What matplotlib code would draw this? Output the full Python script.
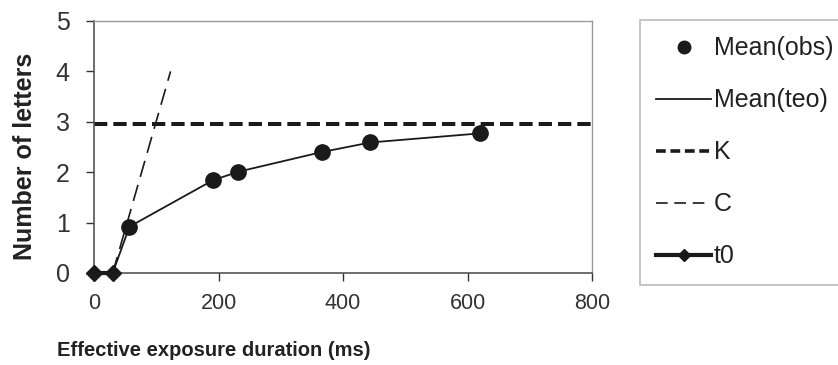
import matplotlib
matplotlib.use("Agg")
import matplotlib.pyplot as plt
from matplotlib.lines import Line2D

plt.rcParams['font.family'] = ['Liberation Sans', 'DejaVu Sans']

# Data
obs_x = [57, 191, 232, 366, 444, 620]
obs_y = [0.92, 1.84, 2.01, 2.40, 2.59, 2.77]
teo_x = [30, 57, 191, 232, 366, 444, 620]
teo_y = [0.0, 0.92, 1.84, 2.01, 2.40, 2.59, 2.77]
K_value = 2.95
K_x = [0, 800]
C_x = [30, 123]
C_y = [0.0, 4.0]
t0_x = [0, 30]
t0_y = [0, 0]
x_ticks = [0, 200, 400, 600, 800]
y_ticks = [0, 1, 2, 3, 4, 5]

dark = '#1a1a1a'
W, H = 838, 365
fig = plt.figure(figsize=(W / 100, H / 100), dpi=100)
ax = fig.add_axes([94 / W, 1 - 273 / H, (592 - 94) / W, (273 - 21) / H])

ax.plot(teo_x, teo_y, color=dark, lw=1.3, zorder=3)
ax.plot(K_x, [K_value, K_value], color=dark, lw=2.9, dashes=(3.3, 1.5), zorder=2)
ax.plot(C_x, C_y, color=dark, lw=1.2, dashes=(10, 5), zorder=2)
ax.plot(t0_x, t0_y, color=dark, lw=3, marker='D', ms=8, clip_on=False, zorder=5)
ax.plot(obs_x, obs_y, ls='none', marker='o', ms=11, color=dark, zorder=4)

ax.set_xlim(0, 800)
ax.set_ylim(0, 5)
ax.set_xticks(x_ticks)
ax.set_yticks(y_ticks)
ax.tick_params(axis='both', colors='#333333', length=5.5, width=1, direction='out')
ax.tick_params(axis='y', labelsize=18, pad=12)
ax.tick_params(axis='x', labelsize=15.5, pad=9)
for s in ['left', 'bottom']:
    ax.spines[s].set_color('#555555')
    ax.spines[s].set_linewidth(1.2)
for s in ['top', 'right']:
    ax.spines[s].set_color('#999999')
    ax.spines[s].set_linewidth(1.0)

fig.text(214 / W, 1 - 351 / H, 'Effective exposure duration (ms)', ha='center', va='center',
         fontsize=14.5, fontweight='bold', color='#222222')
fig.text(25 / W, 1 - 156 / H, 'Number of letters', ha='center', va='center', rotation=90,
         fontsize=18, fontweight='bold', color='#222222')

handles = [
    Line2D([], [], ls='none', marker='o', ms=9, color=dark),
    Line2D([], [], color=dark, lw=1.3),
    Line2D([], [], color=dark, lw=2.6, dashes=(2.7, 1.3)),
    Line2D([], [], color=dark, lw=1.2, dashes=(7, 4)),
    Line2D([], [], color=dark, lw=3, marker='D', ms=6),
]
labels = ['Mean(obs)', 'Mean(teo)', 'K', 'C', 't0']
leg = fig.legend(handles, labels, loc='upper left', bbox_to_anchor=(640 / W, 1 - 20 / H),
                 fontsize=18, frameon=True, fancybox=False, handlelength=2.2,
                 handletextpad=0.1, labelspacing=1.12, borderpad=0.65, borderaxespad=0)
leg.get_frame().set_edgecolor('#aaaaaa')
leg.get_frame().set_linewidth(1.2)
for t in leg.get_texts():
    t.set_color('#222222')

fig.savefig('out.png', dpi=100)
